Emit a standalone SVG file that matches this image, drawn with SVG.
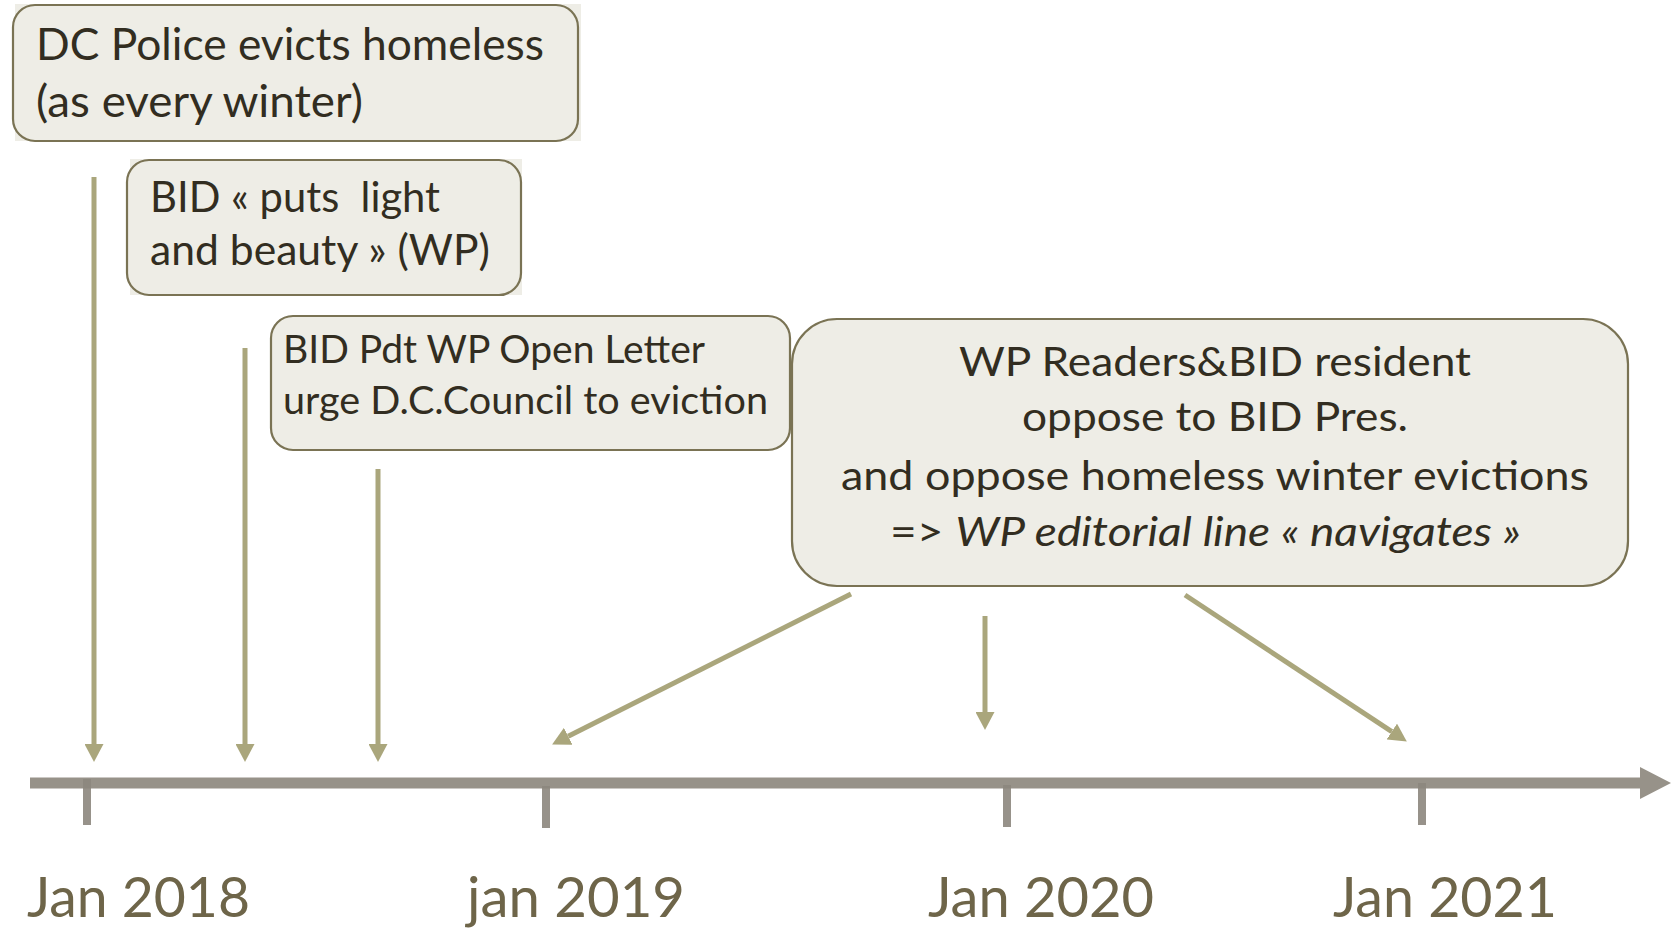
<svg xmlns="http://www.w3.org/2000/svg" width="1678" height="933" viewBox="0 0 1678 933">
<defs>
<style>
.box{fill:#eeede6;stroke:#7a7354;stroke-width:2.2}
.bg{fill:#eeede6}
.t{font-family:Lato,"Liberation Sans",sans-serif;fill:#322d21}
.lbl{font-family:Lato,"Liberation Sans",sans-serif;fill:#6e6549;font-size:57px}
.arr{stroke:#aaa67c;stroke-width:5;fill:none}
.tick{stroke:#8c877e;stroke-width:8;opacity:0.9}
</style>
<marker id="ah" markerUnits="userSpaceOnUse" markerWidth="18" markerHeight="19" viewBox="0 0 18 19" refX="0" refY="9.5" orient="auto">
<path d="M0,0 L18,9.5 L0,19 z" fill="#aaa67c"/>
</marker>
</defs>
<rect width="1678" height="933" fill="#ffffff"/>

<g id="timeline">
<line x1="30" y1="783" x2="1642" y2="783" stroke="#979289" stroke-width="11"/>
<path d="M1640,767 L1671,783 L1640,799 z" fill="#979289"/>
<line class="tick" x1="87" y1="779" x2="87" y2="825"/>
<line class="tick" x1="546" y1="786" x2="546" y2="828"/>
<line class="tick" x1="1007" y1="785" x2="1007" y2="827"/>
<line class="tick" x1="1422" y1="783" x2="1422" y2="825"/>
<text class="lbl" x="27" y="917" textLength="223" lengthAdjust="spacingAndGlyphs">Jan 2018</text>
<text class="lbl" x="467" y="917" textLength="218" lengthAdjust="spacingAndGlyphs">jan 2019</text>
<text class="lbl" x="928" y="917" textLength="226" lengthAdjust="spacingAndGlyphs">Jan 2020</text>
<text class="lbl" x="1333" y="917" textLength="224" lengthAdjust="spacingAndGlyphs">Jan 2021</text>
</g>

<g id="connectors">
<line class="arr" x1="94" y1="177" x2="94" y2="744" marker-end="url(#ah)"/>
<line class="arr" x1="245" y1="348" x2="245" y2="744" marker-end="url(#ah)"/>
<line class="arr" x1="378" y1="469" x2="378" y2="744" marker-end="url(#ah)"/>
<line class="arr" x1="851" y1="594" x2="568.2" y2="736.3" marker-end="url(#ah)"/>
<line class="arr" x1="985" y1="616" x2="985" y2="712" marker-end="url(#ah)"/>
<line class="arr" x1="1185" y1="595" x2="1391.8" y2="731.6" marker-end="url(#ah)"/>
</g>

<g id="node1">
<rect class="bg" x="15" y="4" width="566" height="137"/>
<rect class="box" x="13" y="5" width="565" height="136" rx="22"/>
<text class="t" font-size="44" x="36" y="60" textLength="508" lengthAdjust="spacingAndGlyphs">DC Police evicts homeless</text>
<text class="t" font-size="44" x="36" y="117" textLength="327" lengthAdjust="spacingAndGlyphs">(as every winter)</text>
</g>

<g id="node2">
<rect class="bg" x="130" y="159" width="392" height="136"/>
<rect class="box" x="127" y="160" width="394" height="135" rx="22"/>
<text class="t" font-size="42" x="150" y="212" textLength="290" lengthAdjust="spacingAndGlyphs" xml:space="preserve">BID « puts  light</text>
<text class="t" font-size="42" x="150" y="265" textLength="340" lengthAdjust="spacingAndGlyphs">and beauty » (WP)</text>
</g>

<g id="node3">
<rect class="box" x="271" y="316" width="519" height="134" rx="22"/>
<text class="t" font-size="39" x="283" y="363" textLength="422" lengthAdjust="spacingAndGlyphs">BID Pdt WP Open Letter</text>
<text class="t" font-size="39" x="283" y="414" textLength="485" lengthAdjust="spacingAndGlyphs">urge D.C.Council to eviction</text>
</g>

<g id="node4">
<rect class="box" x="792" y="319" width="836" height="267" rx="45"/>
<text class="t" font-size="41" x="959" y="376" textLength="512" lengthAdjust="spacingAndGlyphs">WP Readers&amp;BID resident</text>
<text class="t" font-size="41" x="1022" y="431" textLength="386" lengthAdjust="spacingAndGlyphs">oppose to BID Pres.</text>
<text class="t" font-size="41" x="841" y="490" textLength="748" lengthAdjust="spacingAndGlyphs">and oppose homeless winter evictions</text>
<text class="t" font-size="41" x="890" y="546" textLength="631" lengthAdjust="spacingAndGlyphs">=&gt; <tspan font-style="italic">WP editorial line « navigates »</tspan></text>
</g>
</svg>
